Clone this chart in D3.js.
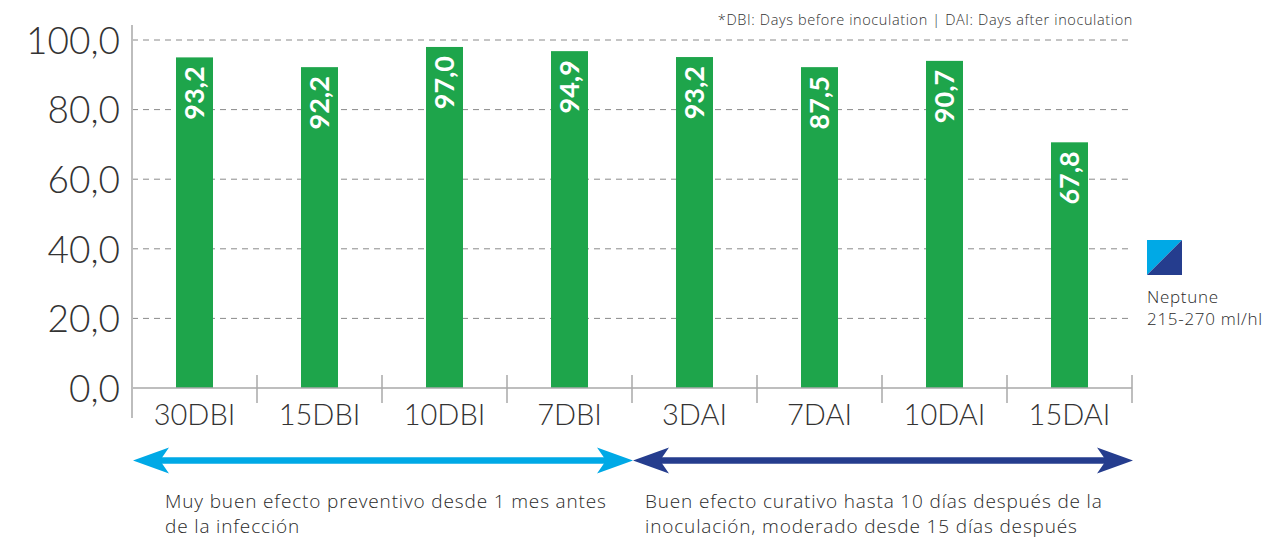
<!DOCTYPE html>
<html>
<head>
<meta charset="utf-8">
<script src="https://cdn.jsdelivr.net/npm/d3@7"></script>
<style>
  body { margin: 0; background: #fff; }
  svg { display: block; font-family: Lato, "Open Sans", sans-serif; }
  .small { font-family: "Open Sans", Lato, sans-serif; font-weight: 300; }
</style>
</head>
<body>
<div id="chart"></div>
<script>
// categories and values
const categories = ["30DBI", "15DBI", "10DBI", "7DBI", "3DAI", "7DAI", "10DAI", "15DAI"];
const valueLabels = [93.2, 92.2, 97.0, 94.9, 93.2, 87.5, 90.7, 67.8];
// the drawn bars are a bit taller than their printed values
const barHeights = [95.0, 92.2, 98.0, 96.8, 95.1, 92.2, 94.0, 70.6];
const yTicks = [0, 20, 40, 60, 80, 100];
const legendLines = ["Neptune", "215-270 ml/hl"];
const note = "*DBI: Days before inoculation | DAI: Days after inoculation";
const phases = [
  { from: 0, to: 4, color: "#00a9e6", text: ["Muy buen efecto preventivo desde 1 mes antes", "de la infección"] },
  { from: 4, to: 8, color: "#253d8e", text: ["Buen efecto curativo hasta 10 días después de la", "inoculación, moderado desde 15 días después"] }
];

const width = 1266, height = 538;
const marginLeft = 132, marginRight = 134, marginTop = 40, axisY = 388;
const green = "#1ea54b", textColor = "#2a2a2a";

const locale = d3.formatLocale({ decimal: ",", thousands: ".", grouping: [3], currency: ["", "€"] });
const fmt = locale.format(".1f");

const svg = d3.select("#chart").append("svg").attr("width", width).attr("height", height);

const x = d3.scaleBand().domain(categories).range([marginLeft, width - marginRight]);
const y = d3.scaleLinear().domain([0, 100]).range([axisY, marginTop]);

// dashed gridlines
svg.append("g")
  .selectAll("line")
  .data(yTicks.filter(d => d > 0))
  .join("line")
  .attr("x1", marginLeft).attr("x2", width - marginRight)
  .attr("y1", d => y(d)).attr("y2", d => y(d))
  .attr("stroke", "#8a8a8a").attr("stroke-width", 1)
  .attr("stroke-dasharray", "6,5");

// y axis labels
svg.append("g")
  .attr("transform", `translate(${marginLeft},0)`)
  .call(d3.axisLeft(y).tickValues(yTicks).tickFormat(fmt).tickSize(0).tickPadding(12))
  .call(g => g.select(".domain").remove())
  .call(g => g.selectAll(".tick text")
    .attr("fill", "#333").attr("font-size", 37).attr("font-weight", 300)
    .attr("font-family", "Lato, sans-serif").attr("dy", "0.36em"));

// bars
svg.append("g")
  .selectAll("rect")
  .data(categories)
  .join("rect")
  .attr("x", d => x(d) + x.bandwidth() / 2 - 18.5)
  .attr("width", 37)
  .attr("y", (d, i) => y(barHeights[i]))
  .attr("height", (d, i) => axisY - y(barHeights[i]))
  .attr("fill", green);

// value labels, rotated, near top of bar
svg.append("g")
  .selectAll("text")
  .data(categories)
  .join("text")
  .attr("transform", (d, i) => `translate(${x(d) + x.bandwidth() / 2 + 9.5},${y(barHeights[i]) + 9}) rotate(-90)`)
  .attr("text-anchor", "end")
  .attr("fill", "#fff")
  .attr("font-size", 27)
  .attr("font-weight", 700)
  .text((d, i) => fmt(valueLabels[i]));

// x axis line and ticks
const xAxis = svg.append("g");
xAxis.append("line")
  .attr("x1", marginLeft).attr("x2", width - marginRight)
  .attr("y1", axisY).attr("y2", axisY)
  .attr("stroke", "#a8a8a8").attr("stroke-width", 1.5);
xAxis.selectAll(".sep")
  .data(categories.slice(1).concat(["end"]))
  .join("line")
  .attr("class", "sep")
  .attr("x1", (d, i) => marginLeft + (i + 1) * x.bandwidth())
  .attr("x2", (d, i) => marginLeft + (i + 1) * x.bandwidth())
  .attr("y1", 375).attr("y2", 403)
  .attr("stroke", "#a8a8a8").attr("stroke-width", 1.5);
xAxis.append("line")
  .attr("x1", marginLeft).attr("x2", marginLeft)
  .attr("y1", 25).attr("y2", 418)
  .attr("stroke", "#bdbdbd").attr("stroke-width", 2);
xAxis.selectAll("text")
  .data(categories)
  .join("text")
  .attr("x", d => x(d) + x.bandwidth() / 2)
  .attr("y", 425)
  .attr("text-anchor", "middle")
  .attr("fill", "#333")
  .attr("font-size", 29)
  .attr("font-weight", 300)
  .text(d => d);

// note on top right
svg.append("text")
  .attr("class", "small")
  .attr("x", width - marginRight + 1).attr("y", 25)
  .attr("text-anchor", "end")
  .attr("fill", "#333").attr("font-size", 14.5)
  .attr("letter-spacing", 0.62)
  .text(note);

// legend swatch, split diagonally
const lg = svg.append("g").attr("transform", "translate(1147,240)");
lg.append("path").attr("d", "M0,0H35L0,35Z").attr("fill", "#00a9e6");
lg.append("path").attr("d", "M35,0V35H0Z").attr("fill", "#253d8e");
lg.selectAll("text")
  .data(legendLines)
  .join("text")
  .attr("class", "small")
  .attr("x", 0).attr("y", (d, i) => 63 + i * 22)
  .attr("fill", textColor).attr("font-size", 17)
  .attr("letter-spacing", 0.7)
  .text(d => d);

// double headed arrows for the two phases
const arrowY = 460.5;
function arrowHead(tipX, dir) {
  const L = 36, W = 13, notch = 27;
  return `M${tipX},${arrowY}L${tipX + dir * L},${arrowY - W}L${tipX + dir * notch},${arrowY}L${tipX + dir * L},${arrowY + W}Z`;
}
phases.forEach((p, k) => {
  const x0 = marginLeft + p.from * x.bandwidth() + 1;
  const x1 = marginLeft + p.to * x.bandwidth() + 1;
  const g = svg.append("g");
  g.append("line")
    .attr("x1", x0 + 20).attr("x2", x1 - 20)
    .attr("y1", arrowY).attr("y2", arrowY)
    .attr("stroke", p.color).attr("stroke-width", 6.5);
  g.append("path").attr("d", arrowHead(x0, 1)).attr("fill", p.color);
  g.append("path").attr("d", arrowHead(x1, -1)).attr("fill", p.color);
  g.selectAll("text")
    .data(p.text)
    .join("text")
    .attr("class", "small")
    .attr("x", x0 + (k === 0 ? 32 : 12)).attr("y", (d, i) => 508 + i * 25)
    .attr("fill", textColor).attr("font-size", 19)
    .attr("letter-spacing", 0.85)
    .text(d => d);
});
</script>
</body>
</html>
